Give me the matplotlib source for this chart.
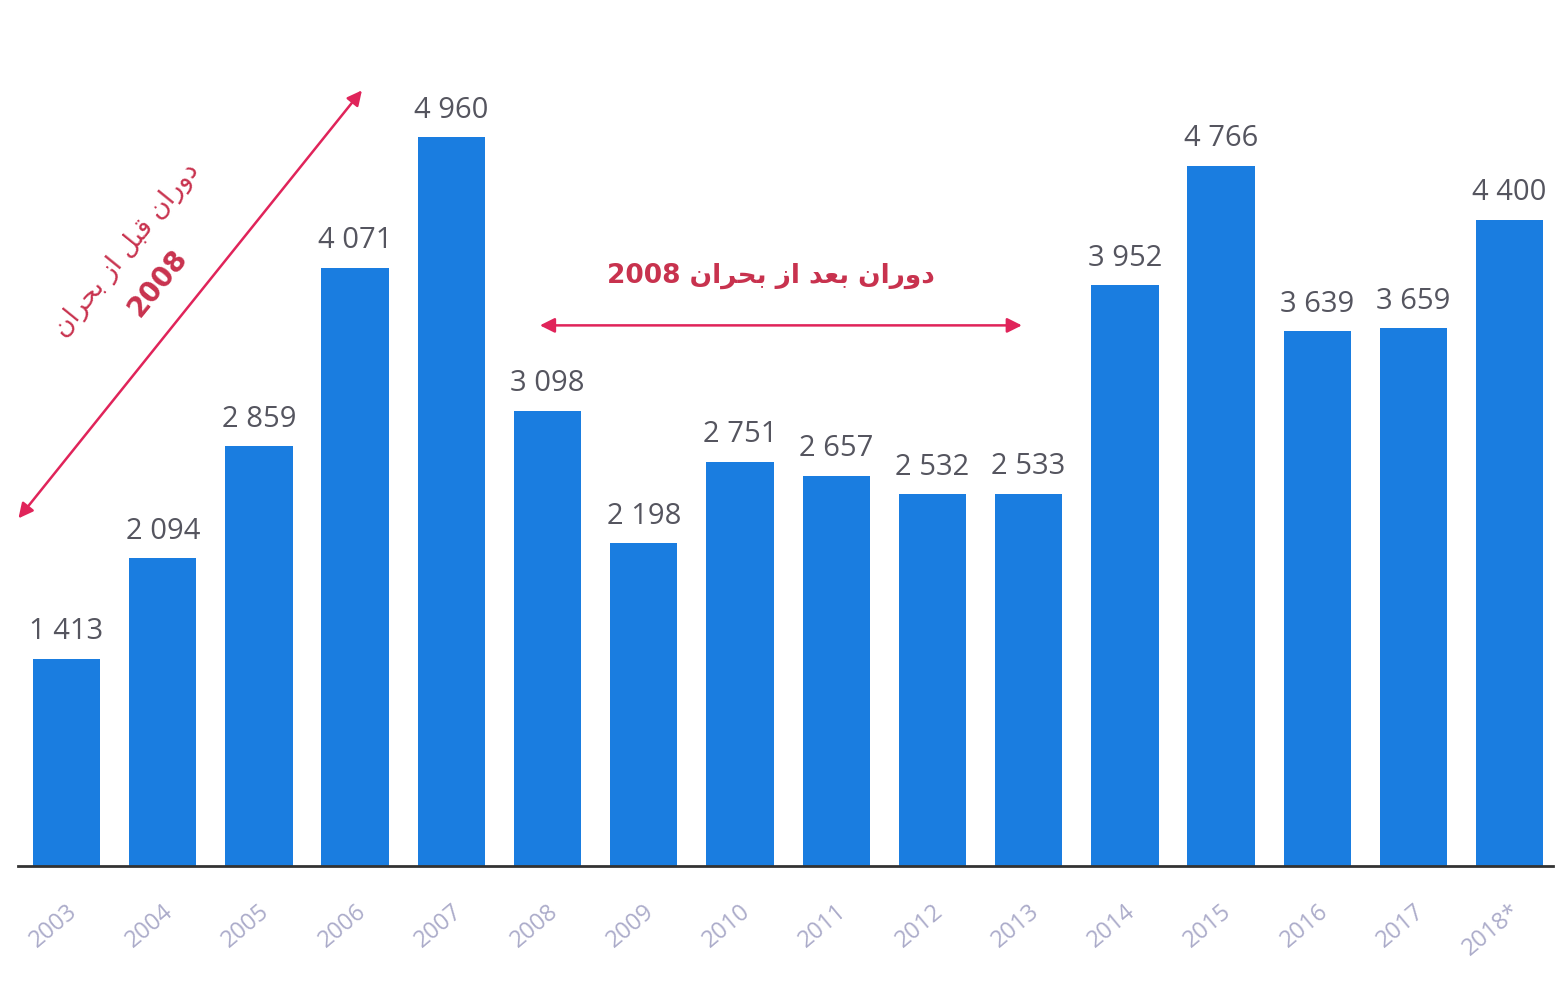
import matplotlib.pyplot as plt

# داده‌ها
years = ['2003', '2004', '2005', '2006', '2007', '2008', '2009', '2010',
         '2011', '2012', '2013', '2014', '2015', '2016', '2017', '2018*']
values = [1413, 2094, 2859, 4071, 4960, 3098, 2198, 2751,
          2657, 2532, 2533, 3952, 4766, 3639, 3659, 4400]

# Persian text in presentation forms, visual order (matplotlib has no shaping)
DOURAN = '\uFEE5\uFE8D\uFEAD\uFEED\uFEA9'   # دوران
BAAD = '\uFEAA\uFECC\uFE91'                 # بعد
AZ = '\uFEAF\uFE8D'                         # از
BOHRAN = '\uFEE5\uFE8D\uFEAE\uFEA4\uFE91'   # بحران
GHABL = '\uFEDE\uFE92\uFED7'                # قبل
after_label = '2008 ' + BOHRAN + ' ' + AZ + ' ' + BAAD + ' ' + DOURAN
before_label = BOHRAN + ' ' + AZ + ' ' + GHABL + ' ' + DOURAN

bar_color = '#1a7de0'
red_text = '#c8324e'
red_arrow = '#e0245a'

fig = plt.figure(figsize=(15.57, 9.81), dpi=100)
ax = fig.add_axes([0.0116, 0.117, 0.9858, 0.852])

x = range(len(years))
bars = ax.bar(x, values, width=0.7, color=bar_color)

for xi, v in zip(x, values):
    label = f'{v:,}'.replace(',', ' ')
    ax.annotate(label, (xi, v), xytext=(0, 9), textcoords='offset points',
                ha='center', va='bottom', fontsize=21, color='#55555f',
                family='Open Sans')

ax.set_xlim(-0.504, 15.45)
ax.set_ylim(0, 5687)
ax.set_yticks([])
ax.set_xticks(list(x))
ax.set_xticklabels(years, rotation=40, ha='right', rotation_mode='anchor',
                   fontsize=17, color='#acacca', family='Open Sans')
ax.tick_params(axis='x', length=0, pad=24)

for s in ['top', 'left', 'right']:
    ax.spines[s].set_visible(False)
ax.spines['bottom'].set_color('#333333')
ax.spines['bottom'].set_linewidth(2)

# فلش‌ها
ax.annotate('', xy=(3.07, 5279), xytext=(-0.5, 2367),
            arrowprops=dict(arrowstyle='<|-|>', color=red_arrow, lw=1.8,
                            mutation_scale=22, shrinkA=0, shrinkB=0),
            annotation_clip=False)
ax.annotate('', xy=(9.93, 3680), xytext=(4.92, 3680),
            arrowprops=dict(arrowstyle='<|-|>', color=red_arrow, lw=1.8,
                            mutation_scale=22, shrinkA=0, shrinkB=0))

# متن‌ها
ax.text(7.32, 4020, after_label, ha='center', va='center', fontsize=19,
        fontweight='bold', color=red_text, family='DejaVu Sans')
ax.text(0.629, 4190, before_label, ha='center', va='center', fontsize=19,
        rotation=51, rotation_mode='anchor', color=red_text,
        family='DejaVu Sans')
ax.text(0.951, 3966, '2008', ha='center', va='center', fontsize=20,
        fontweight='bold', rotation=51, rotation_mode='anchor',
        color=red_text, family='DejaVu Sans')

plt.savefig('out.png', dpi=100)
